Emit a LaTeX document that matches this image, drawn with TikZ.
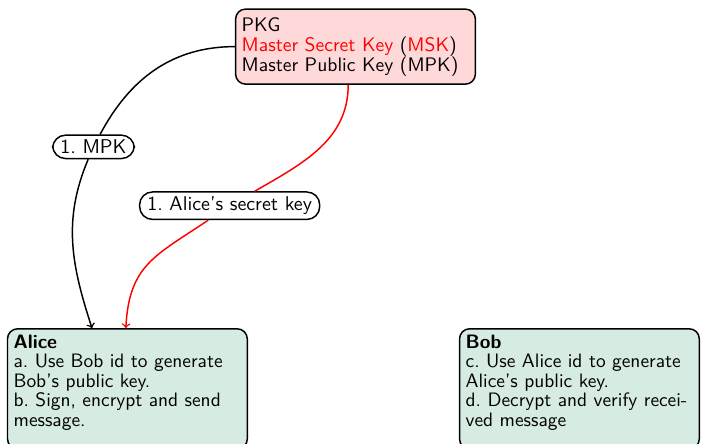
\documentclass[tikz,border=0pt]{standalone}
\usepackage{tikz}
\usepackage{xcolor}
\usetikzlibrary{calc}

\definecolor{keyred}{RGB}{255,217,217}
\definecolor{usergreen}{RGB}{214,235,225}

% extra room under the last line of a party box
\newcommand{\lowpad}{\rule[-9pt]{0pt}{9pt}}
\frenchspacing

\tikzset{
  boxbase/.style={draw, thick, rounded corners=5.5pt, text width=4.37cm, align=left, anchor=north west},
  pkgbox/.style={boxbase, fill=keyred, inner ysep=4.5pt, font=\sffamily\fontsize{10.7}{10.9}\selectfont},
  party/.style={boxbase, fill=usergreen, font=\sffamily\fontsize{10.6}{10.66}\selectfont},
  keylabel/.style={draw=black, thick, rounded corners=7pt, fill=white, text=black,
    inner xsep=4.2pt, inner ysep=2.6pt, font=\sffamily\fontsize{10.9}{12}\selectfont}
}

\begin{document}
\begin{tikzpicture}[font=\sffamily]
  % fix the page size
  \useasboundingbox (0,0) rectangle (13.48,8.51);

  % key generator
  \node[pkgbox] (pkg) at (4.51,8.35)
    {PKG\\\textcolor{red}{Master Secret Key} (\textcolor{red}{MSK})\\Master Public Key (MPK)};

  % the two users
  \node[party] (alice) at (0.13,2.21)
    {\textbf{Alice}\\a. Use Bob id to generate\\Bob's public key.\\b. Sign, encrypt and send\\message.\lowpad};
  \node[party] (bob) at (8.81,2.21)
    {\textbf{Bob}\\c. Use Alice id to generate\\Alice's public key.\\d. Decrypt and verify recei-\\ved message\lowpad};

  % labels on the connectors
  \node[keylabel] (mpk) at (1.795,5.69) {1. MPK};
  \node[keylabel] (sk) at (4.41,4.56) {1. Alice's secret key};

  \coordinate (mpkend) at ($(alice.north)+(-0.68,0)$);
  \coordinate (skend) at ($(alice.north)+(-0.03,0)$);
  \coordinate (mskstart) at ($(pkg.south)+(-0.14,0)$);

  % keys sent to Alice
  \draw[thick, ->] (pkg.west) to[out=180, in=62] (mpk)
    to[out=-113, in=108] (mpkend);
  \draw[thick, red, ->] (mskstart) to[out=-90, in=30] (sk)
    to[out=-146, in=87, looseness=1.2] (skend);
\end{tikzpicture}
\end{document}
